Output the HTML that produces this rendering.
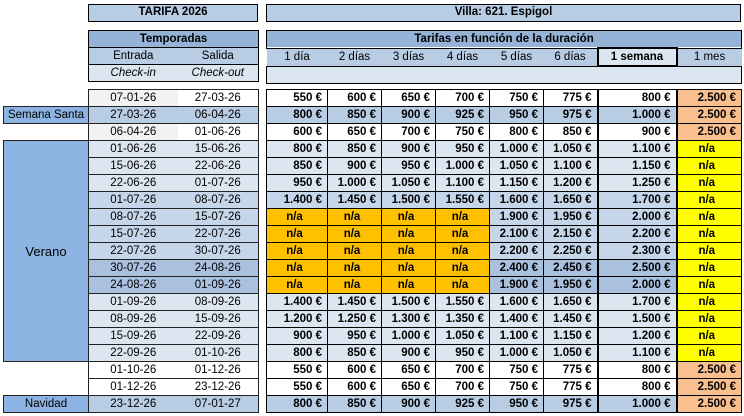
<!DOCTYPE html>
<html><head><meta charset="utf-8"><style>
body{margin:0;width:744px;height:416px;background:#fff;position:relative;overflow:hidden;font-family:"Liberation Sans",sans-serif;font-size:11.5px;color:#000}
.box{position:absolute;border:1px solid #000;box-sizing:border-box;text-align:center;font-weight:bold;line-height:15px}
table{position:absolute;border-collapse:collapse;table-layout:fixed}
td{height:16px;padding:0;border:1px solid #000;text-align:center;white-space:nowrap;overflow:hidden;line-height:15px}
#L td{border-color:#222}
#L td.e{border-right:none}
#L td.f{border-left:none}
#P td{text-align:right;padding-right:5px;font-weight:bold}
#P td.na{text-align:center;background:#ffc000}
#P td.ny{text-align:center;background:#ffff00}
#P td.or{background:#fabf8f}
#P td.s{border-left:2px solid #000;border-right:2px solid #000}
.w td{background:#fff}.w td.g{background:#f2f2f2}
.b td{background:#b8cce4}
.l td{background:#dce6f1}
.m td{background:#c6d6ea}
.d td{background:#a9c0df}
td.lab{background:#8db3e2 !important;font-weight:normal}
td.nb{border:none;background:#fff !important}
</style></head><body>
<div class="box" style="left:88px;top:4px;width:170px;height:18px;background:#b8cce4">TARIFA 2026</div>
<div class="box" style="left:266px;top:4px;width:475px;height:18px;background:#b8cce4">Villa: 621. Espigol</div>

<table style="left:88px;top:30px;width:170px">
<col style="width:89px"><col style="width:81px">
<tr><td colspan="2" style="background:#95b3d7;font-weight:bold">Temporadas</td></tr>
<tr><td style="background:#b8cce4;border-right:none">Entrada</td><td style="background:#b8cce4;border-left:none">Salida</td></tr>
<tr><td style="background:#dce6f1;border-right:none;font-style:italic">Check-in</td><td style="background:#dce6f1;border-left:none;font-style:italic">Check-out</td></tr>
</table>

<table style="left:266px;top:30px;width:475px">
<col style="width:61px"><col style="width:54px"><col style="width:54px"><col style="width:54px"><col style="width:54px"><col style="width:54px"><col style="width:79px"><col style="width:65px">
<tr><td colspan="8" style="background:#95b3d7;font-weight:bold">Tarifas en función de la duración</td></tr>
<tr style="background:#b8cce4"><td style="border:none">1 día</td><td style="border:none">2 días</td><td style="border:none">3 días</td><td style="border:none">4 días</td><td style="border:none">5 días</td><td style="border:none">6 días</td><td style="border:2px solid #000;background:#dce6f1;font-weight:bold">1 semana</td><td style="border:none">1 mes</td></tr>
<tr><td colspan="8" style="background:#dce6f1"></td></tr>
</table>

<table id="L" style="left:3px;top:89px;width:255px">
<col style="width:85px"><col style="width:89px"><col style="width:81px">
<tr class="w"><td class="nb"></td><td class="g e">07-01-26</td><td class="f">27-03-26</td></tr>
<tr class="b"><td class="lab">Semana Santa</td><td class="e">27-03-26</td><td class="f">06-04-26</td></tr>
<tr class="w"><td class="nb"></td><td class="g e">06-04-26</td><td class="f">01-06-26</td></tr>
<tr class="l"><td class="lab" rowspan="13" style="font-size:13px">Verano</td><td class="e">01-06-26</td><td class="f">15-06-26</td></tr>
<tr class="l"><td class="e">15-06-26</td><td class="f">22-06-26</td></tr>
<tr class="l"><td class="e">22-06-26</td><td class="f">01-07-26</td></tr>
<tr class="m"><td class="e">01-07-26</td><td class="f">08-07-26</td></tr>
<tr class="m"><td class="e">08-07-26</td><td class="f">15-07-26</td></tr>
<tr class="m"><td class="e">15-07-26</td><td class="f">22-07-26</td></tr>
<tr class="m"><td class="e">22-07-26</td><td class="f">30-07-26</td></tr>
<tr class="d"><td class="e">30-07-26</td><td class="f">24-08-26</td></tr>
<tr class="d"><td class="e">24-08-26</td><td class="f">01-09-26</td></tr>
<tr class="l"><td class="e">01-09-26</td><td class="f">08-09-26</td></tr>
<tr class="l"><td class="e">08-09-26</td><td class="f">15-09-26</td></tr>
<tr class="l"><td class="e">15-09-26</td><td class="f">22-09-26</td></tr>
<tr class="l"><td class="e">22-09-26</td><td class="f">01-10-26</td></tr>
<tr class="w"><td class="nb"></td><td class="e">01-10-26</td><td class="f">01-12-26</td></tr>
<tr class="w"><td class="nb"></td><td class="e">01-12-26</td><td class="f">23-12-26</td></tr>
<tr class="b"><td class="lab">Navidad</td><td class="e">23-12-26</td><td class="f">07-01-27</td></tr>
</table>

<table id="P" style="left:266px;top:89px;width:475px">
<col style="width:61px"><col style="width:54px"><col style="width:54px"><col style="width:54px"><col style="width:54px"><col style="width:54px"><col style="width:79px"><col style="width:65px">
<tr class="w"><td>550 €</td><td>600 €</td><td>650 €</td><td>700 €</td><td>750 €</td><td>775 €</td><td class="s">800 €</td><td class="or">2.500 €</td></tr>
<tr class="b"><td>800 €</td><td>850 €</td><td>900 €</td><td>925 €</td><td>950 €</td><td>975 €</td><td class="s">1.000 €</td><td class="or">2.500 €</td></tr>
<tr class="w"><td>600 €</td><td>650 €</td><td>700 €</td><td>750 €</td><td>800 €</td><td>850 €</td><td class="s">900 €</td><td class="or">2.500 €</td></tr>
<tr class="l"><td>800 €</td><td>850 €</td><td>900 €</td><td>950 €</td><td>1.000 €</td><td>1.050 €</td><td class="s">1.100 €</td><td class="ny">n/a</td></tr>
<tr class="l"><td>850 €</td><td>900 €</td><td>950 €</td><td>1.000 €</td><td>1.050 €</td><td>1.100 €</td><td class="s">1.150 €</td><td class="ny">n/a</td></tr>
<tr class="l"><td>950 €</td><td>1.000 €</td><td>1.050 €</td><td>1.100 €</td><td>1.150 €</td><td>1.200 €</td><td class="s">1.250 €</td><td class="ny">n/a</td></tr>
<tr class="m"><td>1.400 €</td><td>1.450 €</td><td>1.500 €</td><td>1.550 €</td><td>1.600 €</td><td>1.650 €</td><td class="s">1.700 €</td><td class="ny">n/a</td></tr>
<tr class="m"><td class="na">n/a</td><td class="na">n/a</td><td class="na">n/a</td><td class="na">n/a</td><td>1.900 €</td><td>1.950 €</td><td class="s">2.000 €</td><td class="ny">n/a</td></tr>
<tr class="m"><td class="na">n/a</td><td class="na">n/a</td><td class="na">n/a</td><td class="na">n/a</td><td>2.100 €</td><td>2.150 €</td><td class="s">2.200 €</td><td class="ny">n/a</td></tr>
<tr class="m"><td class="na">n/a</td><td class="na">n/a</td><td class="na">n/a</td><td class="na">n/a</td><td>2.200 €</td><td>2.250 €</td><td class="s">2.300 €</td><td class="ny">n/a</td></tr>
<tr class="d"><td class="na">n/a</td><td class="na">n/a</td><td class="na">n/a</td><td class="na">n/a</td><td>2.400 €</td><td>2.450 €</td><td class="s">2.500 €</td><td class="ny">n/a</td></tr>
<tr class="d"><td class="na">n/a</td><td class="na">n/a</td><td class="na">n/a</td><td class="na">n/a</td><td>1.900 €</td><td>1.950 €</td><td class="s">2.000 €</td><td class="ny">n/a</td></tr>
<tr class="l"><td>1.400 €</td><td>1.450 €</td><td>1.500 €</td><td>1.550 €</td><td>1.600 €</td><td>1.650 €</td><td class="s">1.700 €</td><td class="ny">n/a</td></tr>
<tr class="l"><td>1.200 €</td><td>1.250 €</td><td>1.300 €</td><td>1.350 €</td><td>1.400 €</td><td>1.450 €</td><td class="s">1.500 €</td><td class="ny">n/a</td></tr>
<tr class="l"><td>900 €</td><td>950 €</td><td>1.000 €</td><td>1.050 €</td><td>1.100 €</td><td>1.150 €</td><td class="s">1.200 €</td><td class="ny">n/a</td></tr>
<tr class="l"><td>800 €</td><td>850 €</td><td>900 €</td><td>950 €</td><td>1.000 €</td><td>1.050 €</td><td class="s">1.100 €</td><td class="ny">n/a</td></tr>
<tr class="w"><td>550 €</td><td>600 €</td><td>650 €</td><td>700 €</td><td>750 €</td><td>775 €</td><td class="s">800 €</td><td class="or">2.500 €</td></tr>
<tr class="w"><td>550 €</td><td>600 €</td><td>650 €</td><td>700 €</td><td>750 €</td><td>775 €</td><td class="s">800 €</td><td class="or">2.500 €</td></tr>
<tr class="b"><td>800 €</td><td>850 €</td><td>900 €</td><td>925 €</td><td>950 €</td><td>975 €</td><td class="s">1.000 €</td><td class="or">2.500 €</td></tr>
</table>
</body></html>
